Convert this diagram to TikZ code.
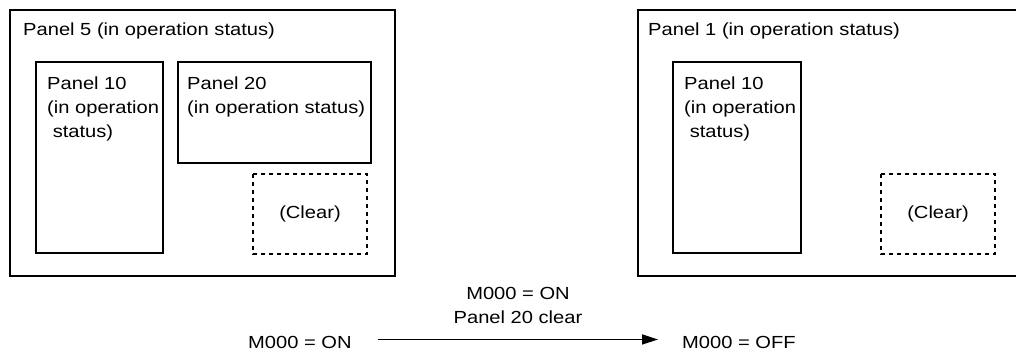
\documentclass[tikz,border=0pt]{standalone}
\usepackage{fontspec}
\setmainfont{Liberation Sans}[FakeStretch=1.15]
\usetikzlibrary{arrows.meta}
\tikzset{
  panel/.style={draw=black, line width=2pt},
  clearbox/.style={draw=black, line width=2pt, dash pattern=on 4pt off 4pt},
  txt/.style={inner sep=0pt, font=\fontsize{17.5pt}{24pt}\selectfont, align=left},
  arr/.style={line width=1.8pt, -{Triangle[length=16pt,width=10pt]}}
}
\begin{document}
\begin{tikzpicture}[x=1pt,y=-1pt]
\useasboundingbox (0,0) rectangle (1016,352);
% left panel group
\draw[panel] (10,10) rectangle (395,276);
\node[txt, anchor=base west] (p5) at (23,36) {Panel 5 (in operation status)};
\draw[panel] (36,62) rectangle (163,253);
\node[txt, anchor=north west] (p10a) at (47,77) {Panel 10\\(in operation\\~status)};
\draw[panel] (178,62) rectangle (371,163);
\node[txt, anchor=north west] (p20) at (187,77) {Panel 20\\(in operation status)};
\draw[clearbox] (253,174) rectangle (367,254);
\node[txt] (clr1) at (310,214) {(Clear)};
% right panel group
\draw[panel] (1018,10) -- (638,10) -- (638,276) -- (1018,276);
\node[txt, anchor=base west] (p1) at (648,36) {Panel 1 (in operation status)};
\draw[panel] (673,62) rectangle (801,253);
\node[txt, anchor=north west] (p10b) at (684,77) {Panel 10\\(in operation\\~status)};
\draw[clearbox] (881,174) rectangle (995,254);
\node[txt] (clr2) at (938,214) {(Clear)};
% transition
\node[txt, anchor=base west] (on) at (248,348) {M000 = ON};
\node[txt, anchor=base west] (off) at (682,348) {M000 = OFF};
\node[txt, align=center, anchor=base] (lbl) at (518,323) {M000 = ON\\Panel 20 clear};
\draw[arr, shorten <=26pt, shorten >=24pt] ([yshift=2.5pt]on.east) -- ([yshift=2.5pt]off.west);
\end{tikzpicture}
\end{document}
